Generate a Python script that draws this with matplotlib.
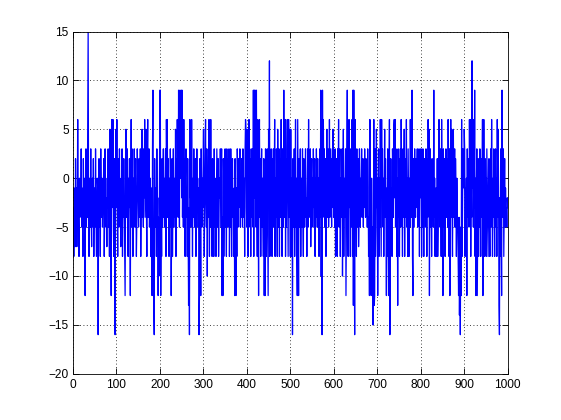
import numpy as np
import matplotlib
matplotlib.use("Agg")
import matplotlib.pyplot as plt

# signal values, 100 samples per block
seg_000 = [-3, -8, -1, -5, -7, 2, -4, -1, -7, -3,
           6, -2, -5, -8, 0, -4, -1, -3, 3, -5,
           -1, -4, -8, 2, -3, -5, 0, -12, -2, 3,
           -5, -1, -4, 5, 15, -3, -8, 0, -2, -5,
           3, -4, -7, -1, 0, -5, 2, -8, -3, -1,
           -5, 3, -2, -8, -4, 0, -1, -16, -3, 2,
           -5, -1, -8, 3, -2, -4, 0, -5, -3, -1,
           2, -8, -4, 3, -1, -5, -2, -7, 0, -3,
           3, -5, -1, -8, 5, -2, -4, -12, 6, -1,
           -3, 6, -5, -8, 2, -4, -16, -1, 5, -3]
seg_100 = [6, -3, -8, 2, -1, -5, 3, -4, -2, -7,
           0, -5, 3, -8, -1, -4, 2, -3, -8, -12,
           -2, 5, -4, -1, 3, -5, -8, 0, -3, 2,
           -4, -12, -1, 6, -5, 3, -2, -8, 0, -4,
           3, -1, -5, 2, -3, -8, -4, 3, 0, -2,
           -5, 2, -4, -1, 3, -8, -3, 0, 5, -4,
           -1, -5, 3, -2, 6, -4, 0, 5, -3, -8,
           2, 6, -4, -1, 3, -5, -2, 0, -8, -3,
           -1, -12, 3, 9, -8, -13, -16, 2, -4, -5,
           -1, -8, 3, -5, -2, -12, -4, -10, 0, 9]
seg_200 = [9, -12, -3, -8, 2, -5, -1, 3, -4, 0,
           -5, -2, 3, -8, 6, -1, 6, -4, 2, -3,
           -8, 0, -5, 3, -1, -12, -4, 2, -8, -2,
           3, -5, 0, -1, -4, 5, -8, 2, -3, 6,
           -1, -4, 9, 3, -5, 9, 0, 6, 9, -2,
           9, -4, 3, -5, 6, -1, 2, -8, 0, 3,
           -4, -1, -8, 2, -5, -13, -3, -16, 6, -2,
           3, -5, 6, -1, -8, 0, -4, 3, -2, -5,
           -1, 2, -8, -4, 3, -3, 0, -5, -1, -16,
           -12, 2, -4, -12, 3, -1, -5, 0, -3, 5]
seg_300 = [5, -8, -3, 0, 6, -2, -5, 3, -10, -1,
           -4, 2, 6, -8, 0, -5, 6, -3, -1, -8,
           2, -4, -1, -8, 3, -5, 0, -2, -8, -3,
           3, -1, -5, 2, -8, -4, 0, -2, 3, -5,
           -1, 3, -12, -4, -12, 2, -8, -3, 0, 3,
           -5, -1, -8, 3, -4, 2, -5, 0, 3, -8,
           -2, -5, 3, -1, -8, 0, 2, -4, -3, -8,
           -1, -12, 2, -4, -12, -1, -8, 3, 0, -5,
           2, -3, -1, 3, -5, 0, -4, 2, -1, -5,
           3, -4, -1, 0, -8, 3, 6, 5, -3, -5]
seg_400 = [5, -3, -8, 0, 6, -1, -5, 2, -8, 3,
           -4, -1, 3, -5, 9, -8, 9, -2, 9, 0,
           -5, 9, -3, -8, 6, -1, -12, 3, 6, -4,
           2, -8, -1, 3, -5, 0, -4, -8, 2, -12,
           -1, -12, 3, -5, -8, 0, 3, -4, -12, 5,
           -2, 12, -8, 0, -5, 3, -1, -8, 2, -4,
           3, -5, -1, 6, -8, 0, -4, 3, -2, -8,
           5, -1, -5, 3, -8, 2, -4, 0, 6, -3,
           -8, 3, -1, -5, 9, -4, 0, 6, -8, 2,
           -5, 3, 6, -1, -8, 6, 0, -4, 5, -8]
seg_500 = [5, -3, -8, 0, -16, 2, -5, -1, 3, -8,
           -2, 6, -5, 0, -8, -12, 6, -3, -12, 2,
           -5, -1, 3, -8, -2, 0, -5, 3, -4, -8,
           2, -1, -5, 0, 3, -4, -2, -8, -1, 3,
           -5, 6, -2, 0, -4, 3, -7, -1, 2, -5,
           0, -3, 3, -1, -5, 2, -8, 0, -4, 3,
           -1, -5, 2, -3, 0, -8, -2, 3, -4, 9,
           -10, 6, -16, 9, -4, 6, -1, 3, -5, 0,
           2, -8, -1, 5, -4, 0, 3, -5, -2, 6,
           -4, 0, 3, -1, -5, 2, -3, 5, -1, -4]
seg_600 = [-1, -5, 3, -8, 0, 2, -4, -8, 3, -2,
           6, -5, -1, 3, -8, 0, -4, -1, 3, -10,
           -2, 5, -8, 0, -4, -1, 3, -12, -5, 2,
           9, -4, -8, -1, 6, -3, 0, -8, 3, -5,
           -1, 6, -8, 9, -13, 9, -4, -16, 6, -3,
           0, -8, 3, -5, -1, 2, -7, -4, 3, -1,
           -5, 0, -2, 3, -4, -1, 2, -5, 0, -3,
           3, -1, -4, 2, -2, 0, -5, 3, -1, -8,
           -4, -12, 6, -8, -3, -12, 0, -8, -5, -15,
           -8, 6, -13, -12, 3, -8, -5, 5, -3, 0]
seg_700 = [-12, -3, 3, -8, 0, -5, 6, -1, -8, 6,
           -2, 3, -5, 0, -8, -1, 5, -4, 2, -3,
           -12, -1, -8, 3, -4, -12, 0, 6, -16, -3,
           2, -5, -1, -8, 3, 0, -4, 5, 6, -2,
           6, -5, 3, -1, -8, 0, -13, 3, -4, 2,
           -8, -1, 3, -5, 6, 0, -2, -8, 3, -4,
           -1, 5, -8, 2, -4, -1, 6, -5, 0, -8,
           3, -2, -8, 0, -5, 6, -1, -4, 3, 9,
           -8, -12, 2, -5, 0, 3, -1, -4, 2, -3,
           0, 3, -5, -1, -4, 3, -8, 2, -2, 3]
seg_800 = [3, -8, 0, -5, 3, -1, -8, 2, -4, 0,
           -5, 3, -1, -8, 2, -4, 6, -2, 5, -12,
           0, 3, -5, -1, -8, 2, -3, 0, -5, 9,
           -4, 0, -8, -3, -1, -8, -4, 2, -8, -5,
           0, 6, -3, -5, 3, -1, -8, 6, 0, -4,
           -12, 3, -1, -5, 2, -8, 0, 3, -4, -1,
           2, -5, 6, -1, -8, 3, -12, 0, 6, -4,
           5, -3, -8, 0, 5, -4, -1, 3, -5, 2,
           -1, -8, 0, -4, -5, -8, -12, -4, -14, -8,
           -16, -5, -12, 6, -8, -4, 3, 0, -1, 5]
seg_900 = [3, -8, -1, -5, 0, -12, 3, -4, -1, 2,
           -5, 6, -2, 6, -8, 0, -4, 12, -1, 3,
           -5, 6, -3, 9, -8, 0, -12, -1, 3, -12,
           -4, 2, -8, 0, -5, 3, -1, -8, 2, -4,
           0, 6, -12, -5, 6, -1, -8, 2, -4, 0,
           -8, 3, -1, -5, -8, 0, 2, -4, -8, -1,
           3, -5, 6, -1, -8, 0, -4, 3, -2, -8,
           -1, 3, -5, 0, -8, 6, -4, 5, -1, -13,
           -16, -2, -8, 3, -5, -12, 9, -4, -1, 3,
           -8, -3, 2, -5, -1, -4, -3, -5, -2, -3]

x_ticks = list(range(0, 1001, 100))
y_ticks = list(range(-20, 16, 5))

signal = np.array(seg_000 + seg_100 + seg_200 + seg_300 + seg_400 +
                  seg_500 + seg_600 + seg_700 + seg_800 + seg_900)
n = np.arange(1, len(signal) + 1)

plt.rcParams['font.family'] = ['Liberation Sans', 'DejaVu Sans']

fig = plt.figure(figsize=(5.61, 4.2), dpi=100)
ax = fig.add_axes([0.13, 0.11, 0.775, 0.815])
ax.plot(n, signal, color=(0, 0, 1), linewidth=0.9)

ax.set_xlim(0, 1000)
ax.set_ylim(-20, 15)
ax.set_xticks(x_ticks)
ax.set_yticks(y_ticks)
ax.grid(True, color='black', linestyle=(0, (1, 3)), linewidth=0.6)
ax.tick_params(direction='in', length=4, width=0.6, labelsize=8.6,
               top=True, right=True, pad=4)
ax.tick_params(axis='y', pad=3)
for s in ax.spines.values():
    s.set_linewidth(0.6)

fig.savefig('out.png', dpi=100)
